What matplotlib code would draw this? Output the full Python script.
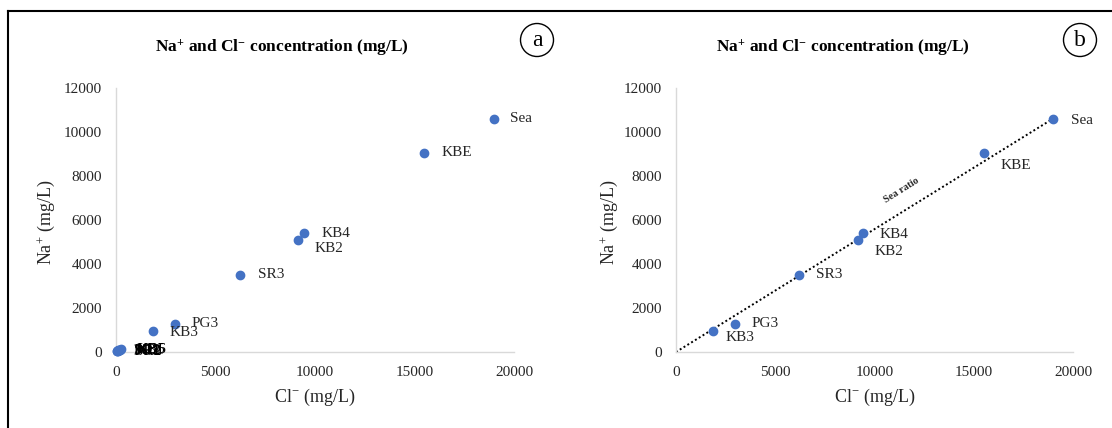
import matplotlib
matplotlib.use("Agg")
import matplotlib.pyplot as plt
from matplotlib.patches import Ellipse
from matplotlib.lines import Line2D

plt.rcParams["font.family"] = ["Liberation Serif", "DejaVu Serif"]
plt.rcParams["mathtext.fontset"] = "custom"
plt.rcParams["mathtext.rm"] = "Liberation Serif"
plt.rcParams["mathtext.it"] = "Liberation Serif:italic"
plt.rcParams["mathtext.bf"] = "Liberation Serif:bold"

# Samples with elevated salinity (Cl-, Na+ in mg/L)
sites = ["Sea", "KBE", "KB4", "KB2", "SR3", "PG3", "KB3"]
cl = [18980, 15500, 9430, 9160, 6210, 2980, 1850]
na = [10600, 9050, 5390, 5090, 3500, 1290, 960]

# Low-concentration samples (only plotted in panel a)
low_sites = ["PG1", "PG2", "SR1", "SR2", "KB1", "KB5", "KB6"]
low_cl = [30, 60, 90, 120, 160, 200, 240]
low_na = [30, 55, 70, 40, 90, 110, 130]

xticks = [0, 5000, 10000, 15000, 20000]
yticks = [0, 2000, 4000, 6000, 8000, 10000, 12000]

W, H = 1112, 428
fig = plt.figure(figsize=(W / 100, H / 100), dpi=100)
fig.patch.set_facecolor("white")

BLUE = "#4472C4"
GREY = "#D9D9D9"
TXT = "#262626"


def px_axes(x0, x1, y_top, y_bot):
    return fig.add_axes([x0 / W, 1 - y_bot / H, (x1 - x0) / W, (y_bot - y_top) / H])


def style(ax, ylab_x):
    ax.set_xlim(0, 20000)
    ax.set_ylim(0, 12000)
    ax.set_xticks(xticks)
    ax.set_yticks(yticks)
    ax.set_xticklabels([str(t) for t in xticks])
    ax.set_yticklabels([str(t) for t in yticks])
    for s in ["top", "right"]:
        ax.spines[s].set_visible(False)
    for s in ["left", "bottom"]:
        ax.spines[s].set_color(GREY)
        ax.spines[s].set_linewidth(1.0)
    ax.tick_params(axis="both", length=0, labelsize=11, colors=TXT)
    ax.tick_params(axis="x", pad=10)
    ax.tick_params(axis="y", pad=10)
    ax.set_xlabel(r"Cl$^{-}$ (mg/L)", fontsize=13, color=TXT)
    ax.set_ylabel(r"Na$^{+}$ (mg/L)", fontsize=13, color=TXT)
    ax.xaxis.set_label_coords(0.5, -0.133)
    ax.yaxis.set_label_coords(ylab_x, 0.49)


def label(ax, x, y, text, dx=12, dy=0):
    ax.annotate(text, (x, y), xytext=(dx, dy), textcoords="offset points",
                ha="left", va="center", fontsize=11, color=TXT)


# Panel a
ax1 = px_axes(116, 514, 88, 352)
style(ax1, -0.148)
ax1.plot(low_cl, low_na, "o", color=BLUE, ms=6, clip_on=False, zorder=3)
for x, y, t in zip(low_cl, low_na, low_sites):
    ax1.annotate(t, (x, y), xytext=(12, 0), textcoords="offset points",
                 ha="left", va="center", fontsize=11, color="black")
ax1.plot(cl, na, "o", color=BLUE, ms=6, clip_on=False, zorder=3)
offs_a = {"Sea": (12, 0), "KBE": (12, 0), "KB4": (13, 0), "KB2": (12, -6),
          "SR3": (13, 0), "PG3": (12, 0), "KB3": (12, -1)}
for x, y, t in zip(cl, na, sites):
    label(ax1, x, y, t, *offs_a[t])

# Panel b
ax2 = px_axes(676, 1073, 88, 352)
style(ax2, -0.141)
ax2.plot([0, cl[0]], [0, na[0]], linestyle=(0, (1, 1.3)), color="black",
         lw=1.4, zorder=2)
ax2.plot(cl, na, "o", color=BLUE, ms=6, clip_on=False, zorder=3)
offs_b = {"Sea": (13, -1), "KBE": (12, -9), "KB4": (12, -1), "KB2": (12, -8),
          "SR3": (12, 0), "PG3": (12, 0), "KB3": (9, -5)}
for x, y, t in zip(cl, na, sites):
    label(ax2, x, y, t, *offs_b[t])
ax2.text(11350, 7330, "Sea ratio", rotation=32, ha="center", va="center",
         fontsize=7.5, fontweight="bold", color=TXT, rotation_mode="anchor")

# Titles
for cx in (282, 843):
    fig.text(cx / W, 1 - 48 / H,
             r"Na$^{\mathbf{+}}$ and Cl$^{\mathbf{-}}$ concentration (mg/L)",
             ha="center", va="center", fontsize=12.5, fontweight="bold",
             color="black")

# Circled panel letters
for cx, letter in ((537, "a"), (1080, "b")):
    fig.add_artist(Ellipse((cx / W, 1 - 40 / H), 33 / W, 33 / H,
                           transform=fig.transFigure, fill=False,
                           edgecolor="black", lw=1.0))
    fig.text(cx / W, 1 - 41 / H, letter, ha="center", va="center",
             fontsize=17, color="black")

# Outer frame
fig.add_artist(Line2D([8 / W, 8 / W], [0, 1 - 11 / H], transform=fig.transFigure,
                      color="black", lw=1.5))
fig.add_artist(Line2D([8 / W, 1], [1 - 11 / H, 1 - 11 / H],
                      transform=fig.transFigure, color="black", lw=1.5))

fig.savefig("out.png", dpi=100)
